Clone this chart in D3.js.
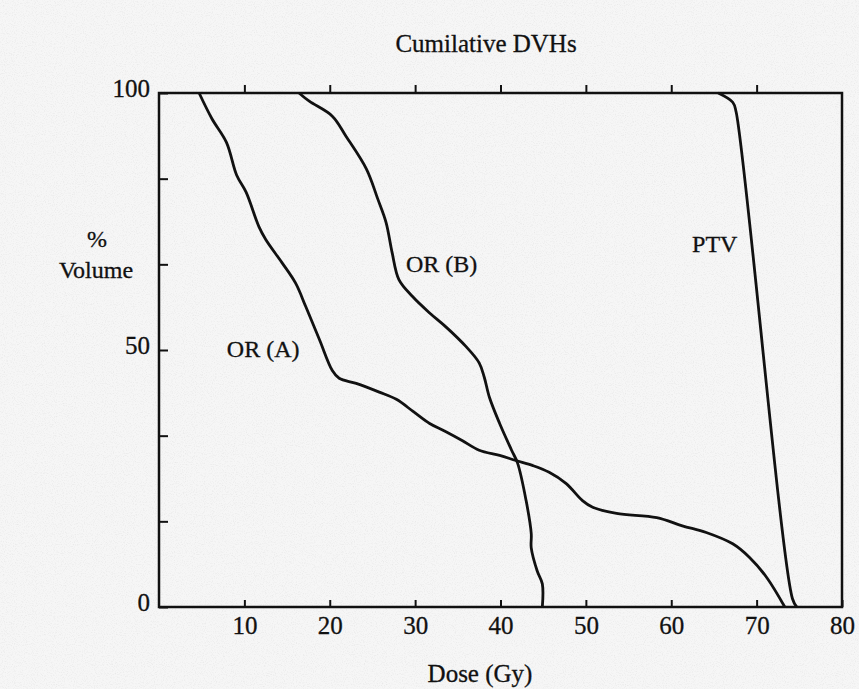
<!DOCTYPE html>
<html>
<head>
<meta charset="utf-8">
<script src="https://cdn.jsdelivr.net/npm/d3@7"></script>
<style>
  body { margin: 0; background: #f6f6f6; }
  svg { display: block; }
  text { font-family: "Liberation Serif", "Times New Roman", serif; fill: #111; stroke: #111; stroke-width: 0.3px; }
</style>
</head>
<body>
<svg id="chart" width="859" height="689"></svg>
<script>
// dose (Gy), % volume
var orA = [[4.7,100],[6.2,95],[7.9,90.4],[9.1,84],[10.2,80.7],[11.7,74],[12.5,71.5],[14.4,67],[16,63],
           [17.2,58.4],[18.8,52],[20.3,46],[21.1,44.5],[23.1,43.5],[25.8,41.8],[27.8,40.4],[29.8,38],
           [31.7,35.7],[33.5,34.2],[35.5,32.4],[37.5,30.5],[39.9,29.5],[41.8,28.5],[43.8,27.5],[45.7,26.2],
           [47.7,24],[49.6,20.7],[50.8,19.4],[53.6,18.2],[58.3,17.4],[61.3,15.8],[64.1,14.5],[67.2,12.3],
           [69.2,9.6],[71.2,5.7],[73.3,0]];
var orB = [[16.4,100],[17.6,98.4],[20.3,95.5],[21.9,91.6],[24.3,85.2],[25.6,79.5],[26.6,74.8],[27.3,69],
           [28.1,63.7],[29.7,60.4],[31.7,57.2],[33.6,54.5],[36,50.6],[37.5,47.5],[38.1,44.7],[38.7,40.8],
           [39.9,35.7],[41.3,30.5],[42,28],[43,20.7],[43.6,14.3],[43.6,11.5],[44.3,7],[44.9,4.5],[44.9,0]];
var ptv = [[65.5,100],[67.2,98.2],[67.6,96.3],[74.2,1.6],[74.7,0]];

var xTicks = [10, 20, 30, 40, 50, 60, 70, 80];
var yTicks = [0, 100/6, 200/6, 50, 400/6, 500/6, 100];
var yLabels = [0, 50, 100];

var curveLabels = [
  { name: "OR (A)", dose: 12.2, vol: 48.6 },
  { name: "OR (B)", dose: 33.1, vol: 65.2 },
  { name: "PTV",    dose: 65.1, vol: 69.1 }
];

var svg = d3.select("#chart");

// scan-like grain
var defs = svg.append("defs");
var grain = defs.append("filter").attr("id", "grain");
grain.append("feTurbulence").attr("type", "fractalNoise").attr("baseFrequency", 0.9).attr("numOctaves", 2).attr("seed", 3);
grain.append("feColorMatrix").attr("type", "matrix")
     .attr("values", "0 0 0 0 0.5  0 0 0 0 0.5  0 0 0 0 0.5  0 0 0 -2 1.05");
svg.append("rect").attr("width", 859).attr("height", 689).attr("fill", "#f6f6f6");
svg.append("rect").attr("width", 859).attr("height", 689).attr("filter", "url(#grain)").attr("opacity", 0.25);

var x = d3.scaleLinear().domain([0, 80]).range([159, 842]);
var y = d3.scaleLinear().domain([0, 100]).range([607, 93]);

// frame
svg.append("rect")
   .attr("x", x(0)).attr("y", y(100))
   .attr("width", x(80) - x(0)).attr("height", y(0) - y(100))
   .attr("fill", "none").attr("stroke", "#111").attr("stroke-width", 2.5);

// Axis X (bottom, ticks pointing in)
var gx = svg.append("g")
   .attr("transform", "translate(0," + y(0) + ")")
   .call(d3.axisBottom(x).tickValues(xTicks).tickSize(-7).tickPadding(9));
gx.select(".domain").remove();

// top ticks pointing out, no labels
var gxTop = svg.append("g")
   .attr("transform", "translate(0," + y(100) + ")")
   .call(d3.axisTop(x).tickValues(xTicks.slice(0, 7)).tickSize(8).tickFormat(""));
gxTop.select(".domain").remove();

// Axis Y
var gy = svg.append("g")
   .attr("transform", "translate(" + x(0) + ",0)")
   .call(d3.axisLeft(y).tickValues(yTicks).tickSize(-9).tickPadding(9)
           .tickFormat(function(d) { return yLabels.indexOf(d) >= 0 ? d : ""; }));
gy.select(".domain").remove();
gy.selectAll("text").attr("dy", "0.12em");

svg.selectAll(".tick line").attr("stroke", "#111").attr("stroke-width", 2);
svg.selectAll(".tick text").style("font-size", "25px").attr("fill", "#111");

// Curves
var line = d3.line()
   .x(function(d) { return x(d[0]); })
   .y(function(d) { return y(d[1]); })
   .curve(d3.curveCatmullRom.alpha(0.5));

svg.selectAll("path.dvh")
   .data([orA, orB, ptv]).enter()
   .append("path")
   .attr("class", "dvh")
   .attr("d", line)
   .attr("fill", "none")
   .attr("stroke", "#111")
   .attr("stroke-width", 2.8)
   .attr("stroke-linejoin", "round");

// Curve labels
svg.selectAll("text.curve-label")
   .data(curveLabels).enter()
   .append("text")
   .attr("class", "curve-label")
   .attr("x", function(d) { return x(d.dose); })
   .attr("y", function(d) { return y(d.vol); })
   .attr("text-anchor", "middle")
   .style("font-size", "24px")
   .text(function(d) { return d.name; });

// Titles
svg.append("text").attr("x", 486).attr("y", 52).attr("text-anchor", "middle")
   .style("font-size", "25px").text("Cumilative DVHs");
svg.append("text").attr("x", 97).attr("y", 247).attr("text-anchor", "middle")
   .style("font-size", "24px").text("%");
svg.append("text").attr("x", 96).attr("y", 278).attr("text-anchor", "middle")
   .style("font-size", "24px").text("Volume");
svg.append("text").attr("x", 480).attr("y", 682).attr("text-anchor", "middle")
   .style("font-size", "25px").text("Dose (Gy)");
</script>
</body>
</html>
